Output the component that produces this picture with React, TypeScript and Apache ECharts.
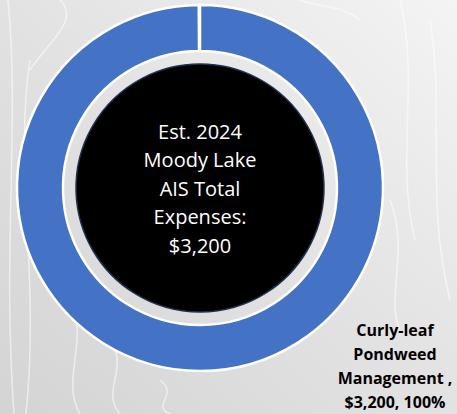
import React, { useEffect, useRef } from "react";
import * as echarts from "echarts";

const categories = ["Curly-leaf Pondweed Management"];
const values = [3200];
const centerLines = ["Est. 2024", "Moody Lake", "AIS Total", "Expenses:", "$3,200"];

// faint decorative streaks of the textured backdrop
const streaks: number[][] = [
  [8, 0, 20, 120, 2, 250, 14, 414],
  [30, 60, 14, 160, 40, 280, 26, 414],
  [70, 300, 90, 340, 60, 380, 80, 414],
  [110, 340, 130, 370, 100, 390, 120, 414],
  [160, 380, 180, 395, 150, 405, 170, 414],
  [400, 0, 420, 80, 395, 160, 415, 240],
  [430, 20, 445, 110, 425, 200, 450, 300],
  [390, 200, 410, 250, 385, 300, 400, 330],
  [300, 0, 320, 8, 340, 4, 360, 20],
  [60, 0, 80, 20, 50, 40, 30, 70],
];

export default function App() {
  const ref = useRef<HTMLDivElement>(null);
  useEffect(() => {
    if (!ref.current) return;
    const chart = echarts.init(ref.current, undefined, { renderer: "svg" });
    const total = values.reduce((a, b) => a + b, 0);
    chart.setOption({
      animation: false,
      backgroundColor: {
        type: "linear",
        x: 1,
        y: 0,
        x2: 0,
        y2: 1,
        colorStops: [
          { offset: 0, color: "#f4f4f4" },
          { offset: 0.5, color: "#e2e2e2" },
          { offset: 1, color: "#d4d4d4" },
        ],
      },
      graphic: streaks.map((s) => ({
        type: "bezierCurve",
        silent: true,
        z: -1,
        shape: { x1: s[0], y1: s[1], cpx1: s[2], cpy1: s[3], cpx2: s[4], cpy2: s[5], x2: s[6], y2: s[7] },
        style: { stroke: "rgba(255,255,255,0.55)", lineWidth: 1.5, fill: null },
      })),
      series: [
        {
          type: "pie",
          silent: true,
          center: [200, 188],
          radius: [0, 124],
          data: [{ value: 1, name: "center" }],
          itemStyle: { color: "#000000", borderColor: "#1f3050", borderWidth: 1.5 },
          label: {
            show: true,
            position: "center",
            formatter: centerLines.join("\n"),
            color: "#ffffff",
            fontFamily: "Open Sans",
            fontSize: 20,
            lineHeight: 28.5,
          },
          labelLine: { show: false },
        },
        {
          type: "pie",
          silent: true,
          center: [200, 188],
          radius: [137, 183],
          startAngle: 90,
          endAngle: -269.6,
          clockwise: true,
          data: categories.map((c, i) => ({ name: c, value: values[i] })),
          itemStyle: { color: "#4472C4", borderColor: "#ffffff", borderWidth: 2.5 },
          label: {
            show: true,
            position: "outside",
            formatter: (p: any) =>
              `${p.name.split(" ").join("\n")} ,\n$${p.value.toLocaleString("en-US")}, ${Math.round(
                (p.value / total) * 100
              )}%`,
            color: "#000000",
            fontFamily: "Open Sans",
            fontWeight: "bold",
            fontSize: 16,
            lineHeight: 24,
            align: "center",
          },
          labelLine: { show: false },
          labelLayout: () => ({ x: 395, y: 366, align: "center", verticalAlign: "middle" }),
        },
      ],
    });
    return () => chart.dispose();
  }, []);
  return (
    <div
      ref={ref}
      style={{ position: "fixed", left: 0, top: 0, width: 457, height: 414 }}
    />
  );
}
